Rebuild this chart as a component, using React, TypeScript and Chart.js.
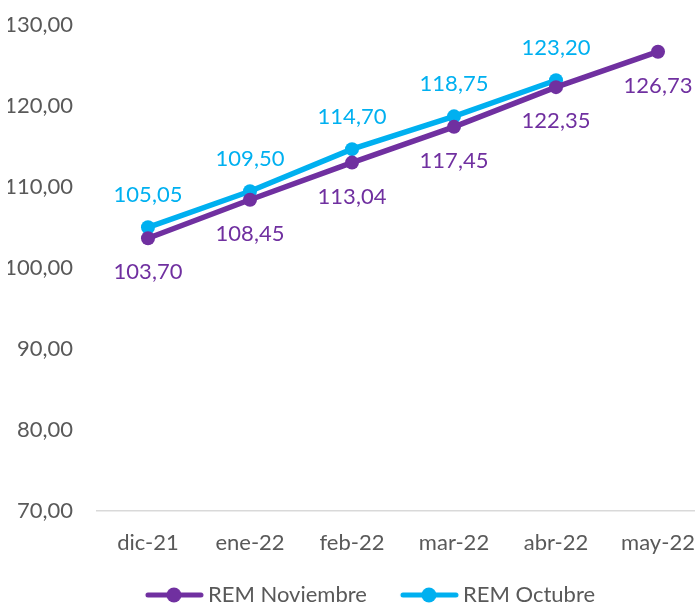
import React, { useEffect, useRef } from 'react';
import { Chart, registerables } from 'chart.js';

Chart.register(...registerables);

const categories = ['dic-21', 'ene-22', 'feb-22', 'mar-22', 'abr-22', 'may-22'];
const remNoviembre = [103.70, 108.45, 113.04, 117.45, 122.35, 126.73];
const remOctubre: (number | null)[] = [105.05, 109.50, 114.70, 118.75, 123.20, null];
const yMin = 70;
const yMax = 130;
const yStep = 10;

const PURPLE = '#7030A0';
const CYAN = '#00B0F0';
const FONT = 'Lato';
const FS = 22;

const fmt = (v: number) => v.toFixed(2).replace('.', ',');

function legendIcon(color: string) {
  const c = document.createElement('canvas');
  c.width = 99;
  c.height = 18;
  const ctx = c.getContext('2d')!;
  ctx.strokeStyle = color;
  ctx.lineWidth = 5;
  ctx.lineCap = 'round';
  ctx.beginPath();
  ctx.moveTo(38, 9);
  ctx.lineTo(91, 9);
  ctx.stroke();
  ctx.fillStyle = color;
  ctx.beginPath();
  ctx.arc(64, 9, 7.5, 0, Math.PI * 2);
  ctx.fill();
  return c;
}

const dataLabels = {
  id: 'dataLabels',
  afterDatasetsDraw(chart: any) {
    const ctx = chart.ctx;
    ctx.save();
    ctx.font = `${FS}px ${FONT}`;
    ctx.textAlign = 'center';
    ctx.textBaseline = 'middle';
    chart.data.datasets.forEach((ds: any, di: number) => {
      const meta = chart.getDatasetMeta(di);
      const off = di === 0 ? 34 : -32;
      ctx.fillStyle = ds.borderColor;
      meta.data.forEach((pt: any, i: number) => {
        const v = ds.data[i];
        if (v == null) return;
        ctx.fillText(fmt(v), pt.x, pt.y + off);
      });
    });
    ctx.restore();
  },
};

export default function App() {
  const ref = useRef<HTMLCanvasElement>(null);
  useEffect(() => {
    if (!ref.current) return;
    const icons = [legendIcon(PURPLE), legendIcon(CYAN)];
    const chart = new Chart(ref.current, {
      type: 'line',
      data: {
        labels: categories,
        datasets: [
          {
            label: 'REM Noviembre',
            data: remNoviembre,
            borderColor: PURPLE,
            backgroundColor: PURPLE,
            borderWidth: 5.5,
            pointRadius: 7,
            pointHoverRadius: 7,
            pointBackgroundColor: PURPLE,
            pointBorderWidth: 0,
            tension: 0,
          },
          {
            label: 'REM Octubre',
            data: remOctubre,
            borderColor: CYAN,
            backgroundColor: CYAN,
            borderWidth: 5.5,
            pointRadius: 7,
            pointHoverRadius: 7,
            pointBackgroundColor: CYAN,
            pointBorderWidth: 0,
            tension: 0,
          },
        ],
      },
      options: {
        responsive: true,
        maintainAspectRatio: false,
        animation: false,
        layout: { padding: { left: 8, right: 11, top: 1, bottom: 0 } },
        scales: {
          x: {
            offset: true,
            grid: { display: false, drawTicks: false },
            border: { display: true, color: '#D9D9D9', width: 1.5 },
            ticks: { color: '#595959', font: { family: FONT, size: FS, lineHeight: 1.4 }, padding: 16 },
          },
          y: {
            min: yMin,
            max: yMax,
            afterFit: (s: any) => {
              s.width = 89;
            },
            grid: { display: false, drawTicks: false },
            border: { display: false },
            ticks: {
              stepSize: yStep,
              color: '#595959',
              font: { family: FONT, size: FS },
              padding: 24,
              callback: (v: any) => fmt(Number(v)),
            },
          },
        },
        plugins: {
          tooltip: { enabled: false },
          legend: {
            position: 'bottom',
            labels: {
              usePointStyle: true,
              pointStyleWidth: 75,
              padding: 10,
              color: '#595959',
              font: { family: FONT, size: FS },
              generateLabels: (c: any) =>
                Chart.defaults.plugins.legend.labels
                  .generateLabels(c)
                  .map((l: any, i: number) => ({ ...l, pointStyle: icons[i] })),
            },
          },
        },
      },
      plugins: [dataLabels],
    });
    return () => chart.destroy();
  }, []);
  return (
    <div style={{ position: 'fixed', left: 0, top: 0, width: 695, height: 605, overflow: 'hidden', background: '#fff' }}>
      <div style={{ position: 'absolute', left: 0, top: -12, width: 720, height: 628 }}>
        <canvas ref={ref} />
      </div>
    </div>
  );
}
